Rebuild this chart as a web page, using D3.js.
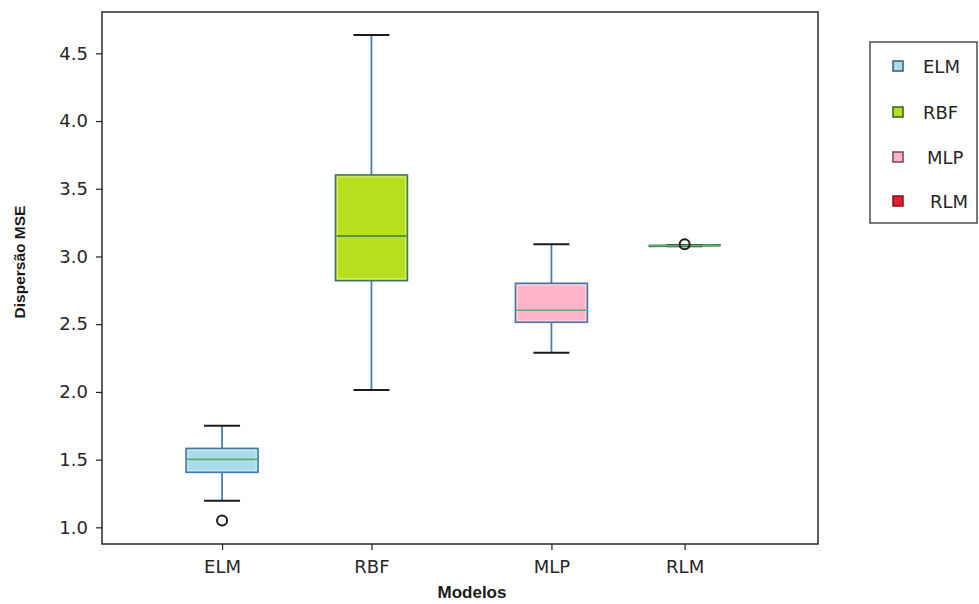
<!DOCTYPE html>
<html>
<head>
<meta charset="utf-8">
<script src="https://cdn.jsdelivr.net/npm/d3@7"></script>
<style>
  body { margin: 0; background: #ffffff; }
  svg { display: block; font-family: "DejaVu Sans", sans-serif; }
</style>
</head>
<body>
<div id="chart"></div>
<script>
// values
var models = ["ELM", "RBF", "MLP", "RLM"];
var positions = [1, 1.83, 2.83, 3.57];
var whiskerLow = [1.196, 2.014, 2.29, 3.075];
var q1 = [1.406, 2.821, 2.514, 3.078];
var medians = [1.502, 3.151, 2.603, 3.08];
var q3 = [1.583, 3.602, 2.802, 3.082];
var whiskerHigh = [1.75, 4.636, 3.09, 3.085];
var outliers = [[1.05], [], [], [3.09]];
var fills = ["#a9dbe8", "#b6e01f", "#ffb3c8", "#e0202c"];
var yTicks = [1.0, 1.5, 2.0, 2.5, 3.0, 3.5, 4.0, 4.5];

var W = 979, H = 604;
var plot = { left: 102, top: 12, right: 818, bottom: 544 };

var svg = d3.select("#chart").append("svg")
    .attr("width", W)
    .attr("height", H);

var x = d3.scaleLinear().domain([0.333, 4.311]).range([plot.left, plot.right]);
var y = d3.scaleLinear().domain([0.877, 4.805]).range([plot.bottom, plot.top]);

var boxW = 0.4, capW = 0.2;

var rows = models.map(function (m, i) {
    return {
        name: m, pos: positions[i], lo: whiskerLow[i], q1: q1[i], med: medians[i],
        q3: q3[i], hi: whiskerHigh[i], out: outliers[i], fill: fills[i]
    };
});
var boxes = rows.filter(function (d) { return d.name != "RLM"; });
var rlm = rows.filter(function (d) { return d.name == "RLM"; });

// whiskers
var g = svg.append("g");
g.selectAll(".whisker").data(rows).enter().append("line")
    .attr("x1", function (d) { return x(d.pos); })
    .attr("x2", function (d) { return x(d.pos); })
    .attr("y1", function (d) { return y(d.lo); })
    .attr("y2", function (d) { return y(d.hi); })
    .attr("stroke", "#4a7fa8")
    .attr("stroke-width", 1.8);

// caps
["lo", "hi"].forEach(function (k) {
    g.selectAll(".cap-" + k).data(rows).enter().append("line")
        .attr("x1", function (d) { return x(d.pos - capW / 2); })
        .attr("x2", function (d) { return x(d.pos + capW / 2); })
        .attr("y1", function (d) { return y(d[k]); })
        .attr("y2", function (d) { return y(d[k]); })
        .attr("stroke", "#1c1c1c")
        .attr("stroke-width", 2);
});

// boxes
g.selectAll(".box").data(boxes).enter().append("rect")
    .attr("x", function (d) { return x(d.pos - boxW / 2); })
    .attr("width", function (d) { return x(d.pos + boxW / 2) - x(d.pos - boxW / 2); })
    .attr("y", function (d) { return y(d.q3); })
    .attr("height", function (d) { return y(d.q1) - y(d.q3); })
    .attr("fill", function (d) { return d.fill; })
    .attr("stroke", function (d) { return d.name == "RBF" ? "#4a7460" : "#4678a6"; })
    .attr("stroke-width", 1.6);

// thin light inner edge seen on the boxes
g.selectAll(".inner").data(boxes).enter().append("rect")
    .attr("x", function (d) { return x(d.pos - boxW / 2) + 2; })
    .attr("width", function (d) { return x(d.pos + boxW / 2) - x(d.pos - boxW / 2) - 4; })
    .attr("y", function (d) { return y(d.q3) + 2; })
    .attr("height", function (d) { return y(d.q1) - y(d.q3) - 4; })
    .attr("fill", "none")
    .attr("stroke", "#ffffff")
    .attr("stroke-opacity", 0.45)
    .attr("stroke-width", 1);

// RLM is almost flat: dark box line
g.selectAll(".flat").data(rlm).enter().append("line")
    .attr("x1", function (d) { return x(d.pos - boxW / 2); })
    .attr("x2", function (d) { return x(d.pos + boxW / 2); })
    .attr("y1", function (d) { return y(d.q1); })
    .attr("y2", function (d) { return y(d.q3); })
    .attr("stroke", "#2e6a40")
    .attr("stroke-width", 2.5);

// medians
g.selectAll(".median").data(rows).enter().append("line")
    .attr("x1", function (d) { return x(d.pos - boxW / 2) + 1; })
    .attr("x2", function (d) { return x(d.pos + boxW / 2) - 1; })
    .attr("y1", function (d) { return y(d.med); })
    .attr("y2", function (d) { return y(d.med); })
    .attr("stroke", function (d) { return d.name == "RBF" ? "#3d7a4a" : "#5fae6e"; })
    .attr("stroke-width", 1.6);

// outliers
var outPts = [];
rows.forEach(function (d) {
    d.out.forEach(function (v) { outPts.push({ pos: d.pos, v: v }); });
});
g.selectAll(".outlier").data(outPts).enter().append("circle")
    .attr("cx", function (d) { return x(d.pos); })
    .attr("cy", function (d) { return y(d.v); })
    .attr("r", 5)
    .attr("fill", "none")
    .attr("stroke", "#1c1c1c")
    .attr("stroke-width", 2);

// axes
var yAxis = svg.append("g")
    .attr("transform", "translate(" + plot.left + ",0)")
    .call(d3.axisLeft(y).tickValues(yTicks).tickFormat(d3.format(".1f")).tickSize(6).tickPadding(8));
var xAxis = svg.append("g")
    .attr("transform", "translate(0," + plot.bottom + ")")
    .call(d3.axisBottom(x).tickValues(positions).tickFormat(function (d, i) { return models[i]; })
        .tickSize(6).tickPadding(10));

[yAxis, xAxis].forEach(function (a) {
    a.select(".domain").remove();
    a.selectAll(".tick line").attr("stroke", "#222").attr("stroke-width", 1.2);
    a.selectAll(".tick text")
        .attr("fill", "#262626")
        .style("font-family", "DejaVu Sans, sans-serif")
        .style("font-size", "18px");
});

// frame
svg.append("rect")
    .attr("x", plot.left)
    .attr("y", plot.top)
    .attr("width", plot.right - plot.left)
    .attr("height", plot.bottom - plot.top)
    .attr("fill", "none")
    .attr("stroke", "#1a1a1a")
    .attr("stroke-width", 1.4);

// axis titles
svg.append("text")
    .attr("x", 472)
    .attr("y", 598)
    .attr("text-anchor", "middle")
    .style("font-family", "Liberation Sans, Arial, sans-serif")
    .style("font-weight", "bold")
    .style("font-size", "17px")
    .attr("fill", "#1a1a1a")
    .text("Modelos");

svg.append("text")
    .attr("transform", "translate(25,262) rotate(-90)")
    .attr("text-anchor", "middle")
    .style("font-family", "Liberation Sans, Arial, sans-serif")
    .style("font-weight", "bold")
    .style("font-size", "15.5px")
    .attr("fill", "#1a1a1a")
    .text("Dispersão MSE");

// legend
var legend = svg.append("g");
legend.append("rect")
    .attr("x", 870)
    .attr("y", 42)
    .attr("width", 107)
    .attr("height", 181)
    .attr("fill", "#ffffff")
    .attr("stroke", "#333333")
    .attr("stroke-width", 1.3);

var legendY = [66, 112, 157, 201];
var legendTextX = [923, 923, 927, 930];
var edges = ["#3c5a66", "#3f5a20", "#6a4a55", "#8a1018"];
var items = legend.selectAll(".item").data(models).enter().append("g")
    .attr("transform", function (d, i) { return "translate(0," + legendY[i] + ")"; });
items.append("rect")
    .attr("x", 893)
    .attr("y", -5)
    .attr("width", 10)
    .attr("height", 10)
    .attr("fill", function (d, i) { return fills[i]; })
    .attr("stroke", function (d, i) { return edges[i]; })
    .attr("stroke-width", 1.5);
items.append("text")
    .attr("x", function (d, i) { return legendTextX[i]; })
    .attr("y", 7)
    .attr("fill", "#262626")
    .style("font-size", "18px")
    .text(function (d) { return d; });
</script>
</body>
</html>
